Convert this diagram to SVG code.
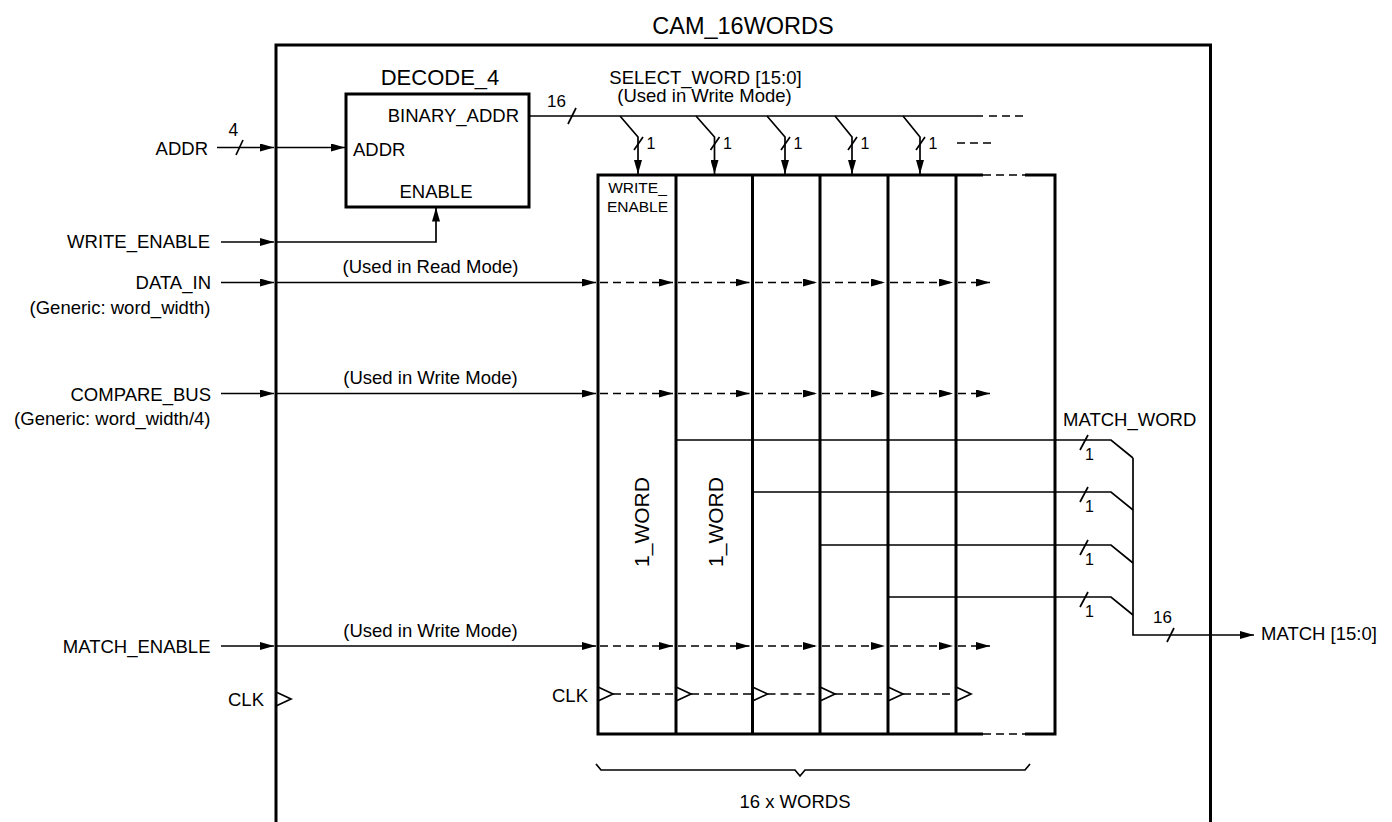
<svg xmlns="http://www.w3.org/2000/svg" width="1392" height="822" viewBox="0 0 1392 822">
<defs>
<style>
.t{font-family:"Liberation Sans",Arial,sans-serif;font-size:18.5px;fill:#000}
.big{font-size:22px}
.ttl{font-size:23.5px}
.sm{font-size:15.5px}
.n{font-size:16px}
.box{fill:none;stroke:#000;stroke-width:3}
.w{fill:none;stroke:#000;stroke-width:1.7}
.d{stroke-dasharray:8 5}
.a{marker-end:url(#ah)}
</style>
<marker id="ah" markerUnits="userSpaceOnUse" markerWidth="14" markerHeight="8" viewBox="0 0 14 8" refX="14" refY="4" orient="auto">
<path d="M0,0 L14,4 L0,8 z" fill="#000"/>
</marker>
</defs>
<rect width="1392" height="822" fill="#fff"/>

<g id="cam_16words">
<rect class="box" x="276" y="45" width="934.5" height="800"/>
<text class="t ttl" x="743" y="34" text-anchor="middle">CAM_16WORDS</text>
<text class="t" x="264" y="706" text-anchor="end">CLK</text>
<polyline class="w" points="276,692 291,699 276,706"/>
</g>

<g id="decode_4">
<rect class="box" x="346" y="94" width="183" height="113"/>
<text class="t big" x="440" y="85" text-anchor="middle">DECODE_4</text>
<text class="t" x="519" y="122" text-anchor="end">BINARY_ADDR</text>
<text class="t" x="353" y="156">ADDR</text>
<text class="t" x="436" y="198" text-anchor="middle">ENABLE</text>
</g>

<g id="word_array">
<path class="box" d="M983,175 H598 V734 H983"/>
<path class="box" d="M1025,175 H1055 V734 H1025"/>
<path class="w d" d="M983,175 H1025 M983,734 H1025"/>
<path class="box" d="M676,175 V734 M752.5,175 V734 M820,175 V734 M888,175 V734 M956,175 V734"/>
<text class="t sm" x="637.5" y="193" text-anchor="middle">WRITE_</text>
<text class="t sm" x="637.5" y="211.5" text-anchor="middle">ENABLE</text>
<text class="t" style="font-size:21px" transform="translate(649,522) rotate(-90)" text-anchor="middle">1_WORD</text>
<text class="t" style="font-size:21px" transform="translate(722.5,522) rotate(-90)" text-anchor="middle">1_WORD</text>
<text class="t" x="588" y="701.5" text-anchor="end">CLK</text>
<polyline class="w" points="598,687 613,694 598,701"/>
<polyline class="w" points="676,687 691,694 676,701"/>
<polyline class="w" points="752.5,687 767.5,694 752.5,701"/>
<polyline class="w" points="820,687 835,694 820,701"/>
<polyline class="w" points="888,687 903,694 888,701"/>
<polyline class="w" points="956,687 971,694 956,701"/>
<path class="w" d="M596,764 L601,770 H795 L800,776 L805,770 H1025 L1030,764"/>
<text class="t" x="795" y="808" text-anchor="middle">16 x WORDS</text>
</g>

<g id="inputs">
<text class="t" x="208" y="155" text-anchor="end">ADDR</text>
<text class="t" x="210" y="248" text-anchor="end">WRITE_ENABLE</text>
<text class="t" x="211" y="289" text-anchor="end">DATA_IN</text>
<text class="t" x="210.5" y="314" text-anchor="end">(Generic: word_width)</text>
<text class="t" x="211" y="401" text-anchor="end">COMPARE_BUS</text>
<text class="t" x="210.5" y="425" text-anchor="end">(Generic: word_width/4)</text>
<text class="t" x="210.5" y="652.5" text-anchor="end">MATCH_ENABLE</text>
</g>

<g id="outputs">
<text class="t" x="1261" y="640">MATCH [15:0]</text>
<text class="t" x="1063" y="426">MATCH_WORD</text>
</g>

<g id="connectors">
<path class="w a" d="M217,147.5 H274"/>
<path class="w" d="M236,155 L243,140"/>
<text class="t" style="font-size:17.5px" x="228.5" y="136">4</text>
<path class="w a" d="M276,147.5 H345"/>
<path class="w a" d="M221,242 H274"/>
<path class="w a" d="M276,242 H436 V207.5"/>
<path class="w a" d="M221,282.5 H274"/>
<path class="w a" d="M276,282.5 H596"/>
<text class="t" x="430.5" y="273" text-anchor="middle">(Used in Read Mode)</text>
<path class="w a" d="M221,393.5 H274"/>
<path class="w a" d="M276,393.5 H596"/>
<text class="t" x="430.5" y="384" text-anchor="middle">(Used in Write Mode)</text>
<path class="w a" d="M221,646 H274"/>
<path class="w a" d="M276,646 H596"/>
<text class="t" x="430.5" y="637" text-anchor="middle">(Used in Write Mode)</text>

<path class="w" d="M529,116 H983"/>
<path class="w d" d="M989,116 H1023"/>
<path class="w" d="M568,124 L576,108"/>
<text class="t" style="font-size:17px" x="547" y="107">16</text>
<text class="t" x="705.5" y="83.5" text-anchor="middle">SELECT_WORD [15:0]</text>
<text class="t" x="704.5" y="102" text-anchor="middle">(Used in Write Mode)</text>
<path class="w a" d="M620,116 L638,137 V174"/>
<path class="w a" d="M696,116 L714.5,137 V174"/>
<path class="w a" d="M767,116 L785,137 V174"/>
<path class="w a" d="M835,116 L852,137 V174"/>
<path class="w a" d="M903,116 L920,137 V174"/>
<path class="w" d="M634,150 L643,137 M710.5,150 L719.5,137 M781,150 L790,137 M848,150 L857,137 M916,150 L925,137"/>
<text class="t n" x="646.5" y="149">1</text>
<text class="t n" x="723" y="149">1</text>
<text class="t n" x="793.5" y="149">1</text>
<text class="t n" x="860.5" y="149">1</text>
<text class="t n" x="928.5" y="149">1</text>
<path class="w d" d="M957,143 H992"/>

<g class="w d">
<path class="a" d="M600,282.5 H673"/><path class="a" d="M678,282.5 H749.5"/><path class="a" d="M755,282.5 H817"/><path class="a" d="M822,282.5 H885"/><path class="a" d="M890,282.5 H953"/><path class="a" d="M958,282.5 H990"/>
<path class="a" d="M600,393.5 H673"/><path class="a" d="M678,393.5 H749.5"/><path class="a" d="M755,393.5 H817"/><path class="a" d="M822,393.5 H885"/><path class="a" d="M890,393.5 H953"/><path class="a" d="M958,393.5 H990"/>
<path class="a" d="M600,646 H673"/><path class="a" d="M678,646 H749.5"/><path class="a" d="M755,646 H817"/><path class="a" d="M822,646 H885"/><path class="a" d="M890,646 H953"/><path class="a" d="M958,646 H990"/>
<path d="M613,694 H676 M691,694 H752.5 M767.5,694 H820 M835,694 H888 M903,694 H956"/>
</g>

<path class="w" d="M677,440 H1111 L1133,458"/>
<path class="w" d="M753,492 H1111 L1133,510"/>
<path class="w" d="M821,545 H1111 L1133,563"/>
<path class="w" d="M888,597 H1111 L1133,615"/>
<path class="w" d="M1080,450 L1088,435 M1080,502 L1088,487 M1080,555 L1088,540 M1080,607 L1088,592"/>
<text class="t n" x="1085" y="460">1</text>
<text class="t n" x="1085" y="512">1</text>
<text class="t n" x="1085" y="565">1</text>
<text class="t n" x="1085" y="617">1</text>
<path class="w a" d="M1133,458 V635 H1254"/>
<path class="w" d="M1167,642 L1174,628"/>
<text class="t" style="font-size:17px" x="1153" y="623">16</text>
</g>
</svg>
